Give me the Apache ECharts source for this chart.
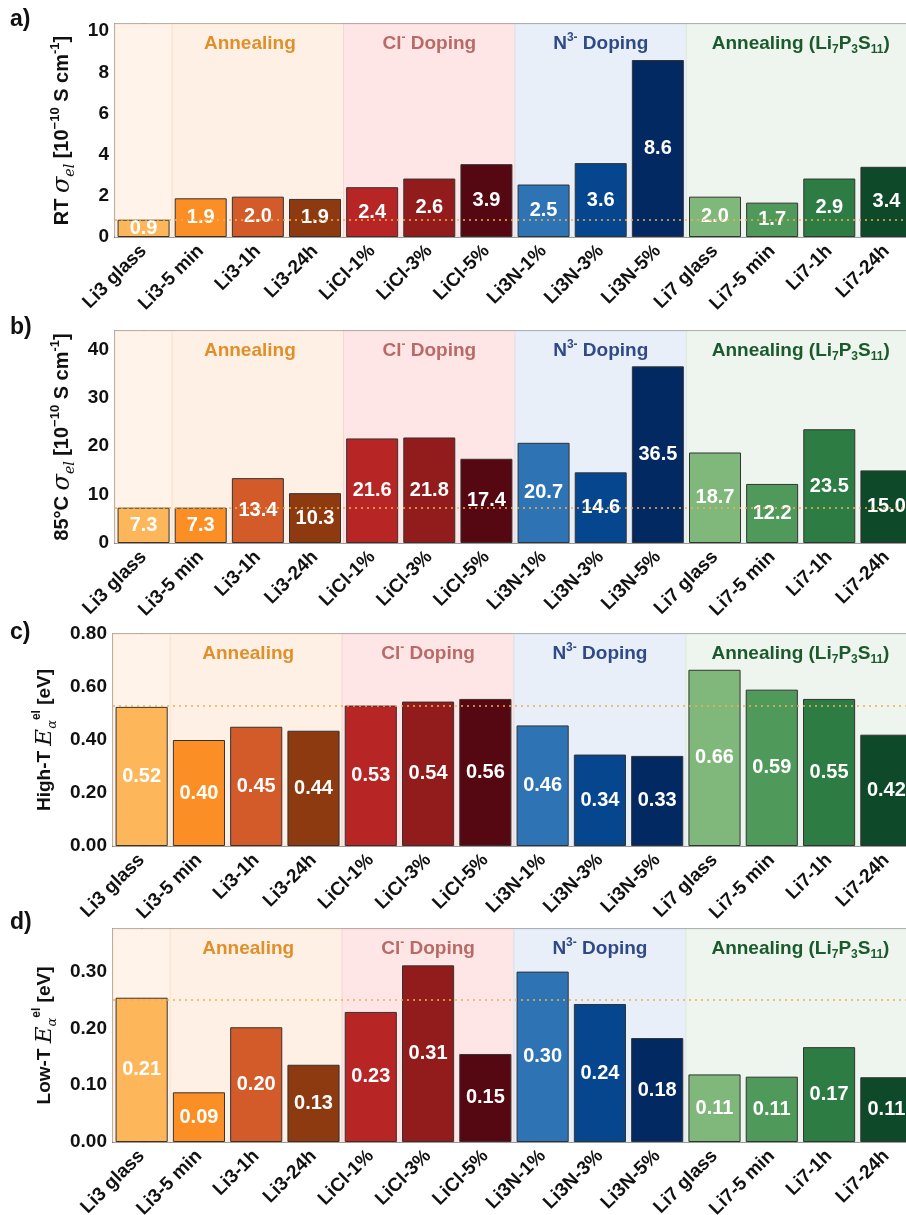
<!DOCTYPE html>
<html>
<head>
<meta charset="utf-8">
<script src="https://cdn.jsdelivr.net/npm/echarts@6/dist/echarts.min.js"></script>
<style>
html,body{margin:0;padding:0;background:#fff;}
#chart{width:906px;height:1215px;}
</style>
</head>
<body>
<div id="chart"></div>
<script>
// ---------- DATA ----------
const categories = ['Li3 glass','Li3-5 min','Li3-1h','Li3-24h','LiCl-1%','LiCl-3%','LiCl-5%','Li3N-1%','Li3N-3%','Li3N-5%','Li7 glass','Li7-5 min','Li7-1h','Li7-24h'];

// a) RT sigma_el [1e-10 S/cm]
const rtValues = [0.84, 1.88, 1.96, 1.85, 2.42, 2.84, 3.54, 2.55, 3.59, 8.6, 1.96, 1.67, 2.84, 3.41];
const rtLabels = ['0.9','1.9','2.0','1.9','2.4','2.6','3.9','2.5','3.6','8.6','2.0','1.7','2.9','3.4'];

// b) 85°C sigma_el [1e-10 S/cm]
const htSigmaValues = [7.3, 7.3, 13.4, 10.3, 21.6, 21.8, 17.4, 20.7, 14.6, 36.5, 18.7, 12.2, 23.5, 15.0];
const htSigmaLabels = ['7.3','7.3','13.4','10.3','21.6','21.8','17.4','20.7','14.6','36.5','18.7','12.2','23.5','15.0'];

// c) High-T Ea [eV]
const highTValues = [0.525, 0.40, 0.45, 0.435, 0.53, 0.545, 0.555, 0.455, 0.345, 0.34, 0.665, 0.59, 0.555, 0.42];
const highTLabels = ['0.52','0.40','0.45','0.44','0.53','0.54','0.56','0.46','0.34','0.33','0.66','0.59','0.55','0.42'];

// d) Low-T Ea [eV]
const lowTValues = [0.254, 0.0875, 0.202, 0.136, 0.229, 0.311, 0.155, 0.300, 0.243, 0.183, 0.119, 0.115, 0.167, 0.114];
const lowTLabels = ['0.21','0.09','0.20','0.13','0.23','0.31','0.15','0.30','0.24','0.18','0.11','0.11','0.17','0.11'];

// y tick settings
const yMax = [10.35, 43.8, 0.80, 0.375];
const yInterval = [2, 10, 0.2, 0.1];
const yDecimals = [0, 0, 2, 2];

// groups (category index ranges)
const groupStart = [0, 1, 4, 7, 10];
const groupEnd   = [0, 3, 6, 9, 13];
const groupNames = ['', 'Annealing', 'Cl{sup|-} Doping', 'N{sup|3-} Doping', 'Annealing (Li{sub|7}P{sub|3}S{sub|11})'];

// ---------- STYLE ----------
const barColors = ['#fdb65a','#fb8f25','#d35b2a','#8d3a10','#b82525','#921c1c','#560812','#2e74b5','#06468f','#022962','#7fb87a','#4f9a5a','#2c7c44','#0e4a2a'];
const groupFills = ['#fff3ea','#fff0e5','#ffe6e6','#e9eff8','#eef4ee'];
const groupBorders = ['#fbe2cc','#fbe2cc','#f6d6d6','#d9e2ef','#e0e8e0'];
const groupTextColors = ['#e0902a','#e0902a','#b86a66','#2f4a86','#1b5a2c'];

const FONT = 'Liberation Sans, Arial, Helvetica, sans-serif';

const panels = [
  {letter:'a)', values: rtValues, labels: rtLabels, top:24, height:213, left:115, nameGap:37, letterTop:8, nameSize:20,
   name:'{b|RT }{i|σ}{sub|el}{b| [10}{sup|−10}{b| S cm}{sup|-1}{b|]}'},
  {letter:'b)', values: htSigmaValues, labels: htSigmaLabels, top:331, height:212, left:115, nameGap:37, letterTop:316, nameSize:20,
   name:'{b|85°C }{i|σ}{sub|el}{b| [10}{sup|−10}{b| S cm}{sup|-1}{b|]}'},
  {letter:'c)', values: highTValues, labels: highTLabels, top:634, height:212, left:113, nameGap:52, letterTop:621, nameSize:19,
   name:'{b|High-T }{i|E}{sub|α}{sup|el}{b| [eV]}'},
  {letter:'d)', values: lowTValues, labels: lowTLabels, top:929, height:213, left:113, nameGap:52, letterTop:911, nameSize:19,
   name:'{b|Low-T }{i|E}{sub|α}{sup|el}{b| [eV]}'}
];

const grids = [], xAxes = [], yAxes = [], series = [], graphics = [];
function richName(s) {
  return {
    b: {fontSize:s, fontWeight:'bold', fontFamily:FONT, color:'#111', lineHeight:28, verticalAlign:'middle'},
    i: {fontSize:s + 4, fontStyle:'italic', fontFamily:'DejaVu Serif, serif', color:'#111', lineHeight:28, verticalAlign:'middle'},
    sub: {fontSize:s - 6, fontStyle:'italic', fontFamily:'DejaVu Serif, serif', color:'#111', lineHeight:28, verticalAlign:'bottom'},
    sup: {fontSize:s - 7, fontWeight:'bold', fontFamily:FONT, color:'#111', lineHeight:28, verticalAlign:'top'}
  };
}

panels.forEach((p, i) => {
  grids.push({left:p.left, top:p.top, height:p.height, width: 906 - p.left + 9,
    containLabel:false, outerBoundsMode:'none',
    show:true, borderColor:'#555', borderWidth:1.5, backgroundColor:'transparent'});
  // category axis
  xAxes.push({type:'category', gridIndex:i, data:categories,
    axisLine:{lineStyle:{color:'#444', width:1.5}}, axisTick:{show:false},
    axisLabel:{rotate:45, fontSize:19, fontWeight:'bold', fontFamily:FONT, color:'#111', margin:11, interval:0}});
  // hidden value axis for shading bands
  xAxes.push({type:'value', gridIndex:i, min:-0.5, max:categories.length - 0.5, show:false});
  const interval = yInterval[i], dec = yDecimals[i];
  yAxes.push({type:'value', gridIndex:i, min:0, max:yMax[i], interval:interval,
    axisLine:{show:true, lineStyle:{color:'#444', width:1.5}},
    axisTick:{show:true, inside:true, length:6, lineStyle:{color:'#444'}},
    minorTick:{show:true, splitNumber:2, length:4, lineStyle:{color:'#444'}},
    splitLine:{show:false}, minorSplitLine:{show:false},
    axisLabel:{fontSize:19, fontWeight:'bold', fontFamily:FONT, color:'#111', margin:6,
      formatter: v => {
        const k = v / interval;
        if (Math.abs(k - Math.round(k)) > 1e-6) return '';
        return v.toFixed(dec);
      }},
    name:p.name, nameLocation:'middle', nameGap:p.nameGap, nameRotate:90,
    nameTextStyle:{rich:richName(p.nameSize)}
  });
  // shading
  const areas = groupStart.map((s, g) => [
    {xAxis: s - 0.5,
     itemStyle:{color:groupFills[g], borderColor:groupBorders[g], borderWidth:1},
     label: groupNames[g] ? {show:true, position:'insideTop', distance:8, offset:[g===1?-8:0,0],
       formatter:'{t|' + groupNames[g].replace(/\{(sub|sup)\|([^}]*)\}/g, '}{$1|$2}{t|') + '}',
       rich:{
         t:{fontSize:19, fontWeight:'bold', fontFamily:FONT, color:groupTextColors[g], lineHeight:24, verticalAlign:'middle'},
         sub:{fontSize:12, fontWeight:'bold', fontFamily:FONT, color:groupTextColors[g], lineHeight:24, verticalAlign:'bottom'},
         sup:{fontSize:12, fontWeight:'bold', fontFamily:FONT, color:groupTextColors[g], lineHeight:24, verticalAlign:'top'}
       }} : {show:false}},
    {xAxis: groupEnd[g] + 0.5}
  ]);
  series.push({type:'line', xAxisIndex:2*i+1, yAxisIndex:i, data:[], silent:true, z:0,
    markArea:{silent:true, data:areas}});
  // bars
  const labels = p.labels;
  series.push({type:'bar', xAxisIndex:2*i, yAxisIndex:i, z:2,
    barCategoryGap:'9%',
    data: p.values.map((v, k) => ({value:v, itemStyle:{color:barColors[k]}})),
    itemStyle:{borderColor:'#333', borderWidth:1},
    label:{show:true, position:'inside', color:'#fff', fontSize:20, fontWeight:'bold', fontFamily:FONT,
      formatter: q => labels[q.dataIndex]},
    markLine:{silent:true, symbol:'none', data:[{yAxis:p.values[0]}],
      lineStyle:{type:[2,4], color:'#f2b04a', width:1.6}, label:{show:false}}
  });
  graphics.push({type:'text', left:10, top:p.letterTop,
    style:{text:p.letter, font:'bold 23px ' + FONT, fill:'#111'}});
});

const chart = echarts.init(document.getElementById('chart'), null, {renderer:'canvas'});
chart.setOption({
  animation:false,
  backgroundColor:'#fff',
  grid:grids, xAxis:xAxes, yAxis:yAxes, series:series, graphic:graphics
});
</script>
</body>
</html>
